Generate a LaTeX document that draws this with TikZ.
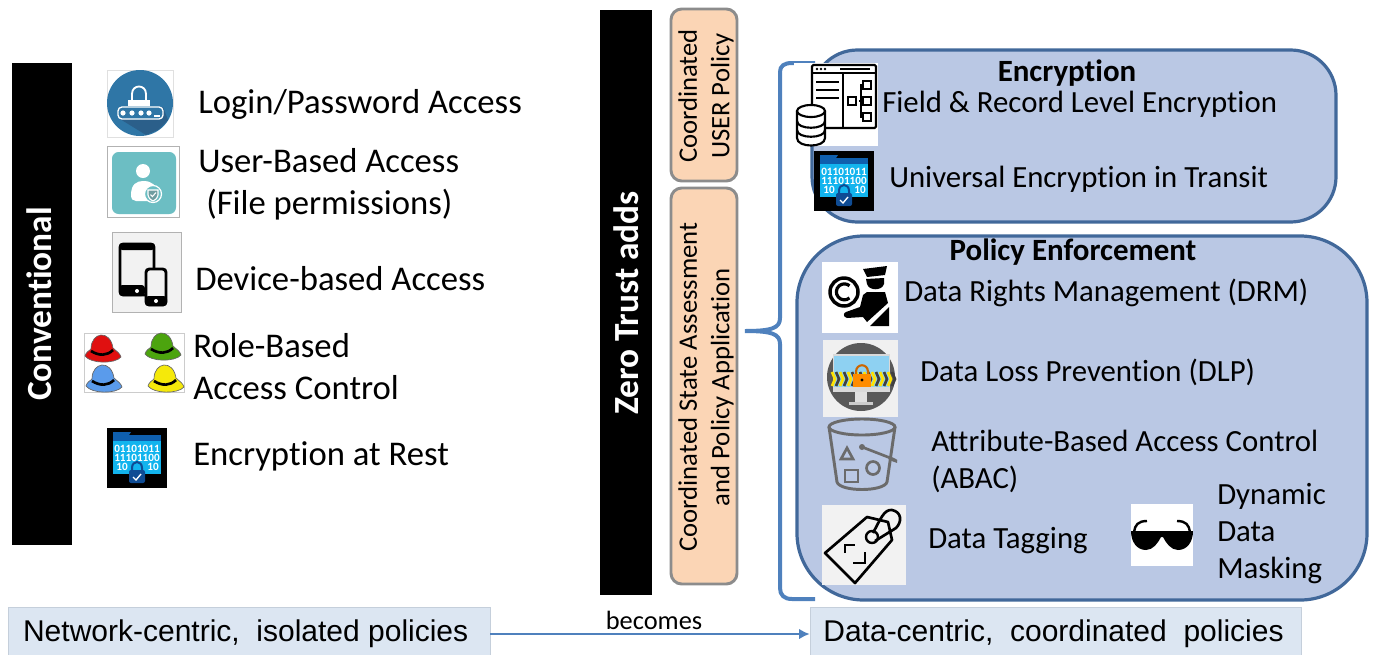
\documentclass[tikz,border=0pt]{standalone}
\usepackage{fontspec}
\usetikzlibrary{arrows.meta}
\setmainfont{Carlito}[Ligatures=CommonOff]
\newfontfamily\arialfont{Liberation Sans}
\definecolor{bracecol}{HTML}{4F81BD}
\definecolor{panelfill}{HTML}{BAC8E4}
\definecolor{paneledge}{HTML}{41689A}
\definecolor{peachfill}{HTML}{FBD5B5}
\definecolor{peachedge}{HTML}{8C8C8C}
\definecolor{barfill}{HTML}{DCE6F2}
\definecolor{baredge}{HTML}{C5CFDB}
\definecolor{folderlight}{HTML}{12B4EE}
\definecolor{folderdark}{HTML}{0F5FAE}
\definecolor{lockblue}{HTML}{0F4C94}
\definecolor{loginblue}{HTML}{2F76A6}
\definecolor{logindark}{HTML}{2B5F8A}
\definecolor{userteal}{HTML}{6CBEC3}
\definecolor{iconpale}{HTML}{F2F2F2}
\definecolor{screenblue}{HTML}{8ED1F2}
\definecolor{hatred}{HTML}{E01010}
\definecolor{hatgreen}{HTML}{4CA40E}
\definecolor{hatblue}{HTML}{5A9BEB}
\definecolor{hatyellow}{HTML}{F5E90A}
\tikzset{
    bartext/.style={white,font=\bfseries\fontsize{26.5}{30}\selectfont,rotate=90},
    peachbox/.style={draw=peachedge,line width=2.2pt,fill=peachfill,rounded corners=8pt},
    peachtext/.style={rotate=90,align=center,font=\fontsize{20}{24.5}\selectfont},
    panel/.style={draw=paneledge,line width=2.4pt,fill=panelfill},
    lefttext/.style={anchor=base west,inner sep=0pt,font=\fontsize{26}{30}\selectfont},
    righttext/.style={anchor=base west,inner sep=0pt,font=\fontsize{23.1}{27}\selectfont},
    headtext/.style={anchor=base,inner sep=0pt,font=\bfseries\fontsize{23.2}{27}\selectfont},
    footbox/.style={draw=baredge,fill=barfill,minimum height=40.5pt,inner sep=0pt,font=\arialfont\fontsize{22.5}{26}\selectfont},
    bitstext/.style={white,inner sep=0pt,font=\bfseries\fontsize{8.4}{9}\selectfont},
    pics/hat/.style={code={
        \fill[#1,draw=black!60,line width=.5pt] (-18,7) .. controls (-17,3) and (-14,2) .. (-12,0) .. controls (-12,-17) and (7,-20) .. (10,-1) .. controls (13,2) and (17,4) .. (18,8) .. controls (12,15) and (-12,15) .. (-18,7) -- cycle;
        \draw[black,line width=2pt] (-12,2) .. controls (-4,7) and (4,7) .. (10,1);
    }},
    pics/encfolder/.style={code={
        \fill[black] (0,0) rectangle (60,60);
        \fill[folderlight] (6,10) rectangle (54,46);
        \fill[folderdark] (6,7) -- (22,7) -- (24,4) -- (6,4) -- cycle;
        \fill[folderdark] (6,7) rectangle (54,13);
        \node[bitstext] (-bitsa) at (30,21) {01101011};
        \node[bitstext] (-bitsb) at (30,30) {11101100};
        \node[bitstext] (-bitsc) at (15,39) {10};
        \node[bitstext] (-bitsd) at (46,39) {10};
        \draw[lockblue,line width=1.5pt] (25,44) -- (25,40) .. controls (25,32) and (35,32) .. (35,40) -- (35,44);
        \fill[lockblue,rounded corners=1.5pt] (22,42) rectangle (38,55);
        \draw[white,line width=1pt] (26,49) -- (29,52) -- (34,46);
    }},
}
\begin{document}
\begin{tikzpicture}[x=0.75pt,y=-0.75pt]
    \useasboundingbox (0,0) rectangle (1374,654);

    % left column
    \fill[black] (12,63) rectangle (72,545);
    \node[bartext] (conv) at (39,304) {Conventional};

    % login icon
    \draw[black!12,fill=white] (107,70) rectangle (173,137);
    \fill[loginblue] (140,103) circle (33);
    \fill[logindark] (128,107) -- (163,107) -- (168,120) -- (158,130) -- (146,135) -- (120,119) -- cycle;
    \draw[white,line width=1.4pt] (132,100) -- (132,94) .. controls (132,84) and (146,84) .. (146,94) -- (146,100);
    \fill[white] (128,100) rectangle (150,106);
    \draw[white,line width=1pt,fill=loginblue,rounded corners=3pt] (118,107) rectangle (163,119);
    \foreach \x in {123,132,141,149}
        \fill[white] (\x,113) circle (2.6);
    \draw[white,line width=1pt] (154,116) -- (160,116);

    % user icon
    \draw[black!30,fill=white] (107,146) rectangle (179,217);
    \fill[userteal,rounded corners=5pt] (112,152) rectangle (176,214);
    \fill[white] (143,171) circle (7);
    \fill[white] (131,195) .. controls (131,184) and (137,181) .. (143,181) .. controls (151,181) and (157,184) .. (157,195) -- (155,201) -- (136,201) .. controls (133,201) and (131,199) .. (131,195) -- cycle;
    \draw[white,line width=.9pt,fill=userteal] (153,194) circle (8.5);
    \draw[white,line width=.8pt,fill=userteal!70!black!80] (148,190) -- (158,190) -- (158,195) .. controls (157,199) and (155,200) .. (153,201) .. controls (151,200) and (149,199) .. (148,195) -- cycle;
    \draw[white,line width=.8pt] (150.5,194.5) -- (152.5,196.5) -- (156,192.5);

    % device icon
    \draw[black!30,fill=iconpale] (112,232) rectangle (181,312);
    \draw[black,line width=2.2pt,fill=iconpale,rounded corners=2.5pt] (120,244) rectangle (154,295);
    \fill[black,rounded corners=2.5pt] (119,243) -- (155,243) -- (155,250) -- (119,250) -- cycle;
    \fill[black,rounded corners=2.5pt] (119,285) rectangle (145,296);
    \fill[white] (137,291) circle (2);
    \draw[black,line width=2.2pt,fill=iconpale,rounded corners=2.5pt] (146,269) rectangle (166,305);
    \fill[black,rounded corners=2.5pt] (145,296) rectangle (167,306);
    \fill[white] (156,301) circle (2);

    % hats icon
    \draw[black!20,fill=white] (84,333) rectangle (184,392);
    \foreach \hx/\hy/\hcol in {103/349/hatred,163/347/hatgreen,104/379/hatblue,166/379/hatyellow}
        \pic at (\hx,\hy) {hat={\hcol}};

    \pic (encrest) at (107,428) {encfolder};

    \node[lefttext] (login) at (198,113) {Login/Password Access};
    \node[lefttext] (userbased) at (198,172) {User-Based Access};
    \node[lefttext] (filepermit) at (206,214) {(File permissions)};
    \node[lefttext] (devicebased) at (195,290) {Device-based Access};
    \node[lefttext] (rolebased) at (193,357) {Role-Based};
    \node[lefttext] (accesscontrol) at (193,399) {Access Control};
    \node[lefttext] (encresttext) at (193,465) {Encryption at Rest};

    % middle column
    \fill[black] (600,10) rectangle (652,595);
    \node[bartext] (zerotrust) at (626,303) {Zero Trust adds};
    \draw[peachbox] (671,9) rectangle (737,181);
    \draw[peachbox] (671,188) rectangle (737,584);
    \node[peachtext] (userpolicy) at (706,96) {Coordinated\\USER Policy};
    \node[peachtext] (statepolicy) at (706,387) {Coordinated State Assessment\\and Policy Application};

    % panels
    \draw[panel,rounded corners=34pt] (812,50) rectangle (1336,222);
    \draw[panel,rounded corners=50pt] (797,236) rectangle (1367,600);

    % brace
    \coordinate (bracetop) at (815,63);
    \coordinate (bracetip) at (745,331);
    \coordinate (bracebot) at (815,599);
    \draw[bracecol,line width=3pt] (bracetop) -- (792,63) .. controls (784,63) and (780,66) .. (780,72) -- (780,318) .. controls (780,328) and (772,331) .. (bracetip) .. controls (772,331) and (780,334) .. (780,344) -- (780,588) .. controls (780,595) and (784,599) .. (792,599) -- (bracebot);

    % field and record icon
    \fill[white] (794,63) rectangle (878,146);
    \draw[black,line width=1.6pt,rounded corners=1pt] (812,65) rectangle (876,128);
    \draw[black,line width=1.6pt] (812,73) -- (876,73);
    \draw[black,line width=1.6pt] (843,73) -- (843,128);
    \draw[black,line width=1.8pt] (840,69) -- (870,69);
    \foreach \x in {817,821,825}
        \fill[black] (\x,69) circle (1.3);
    \foreach \y in {82,90,98}
        \draw[black,line width=1.6pt] (816,\y) -- (839,\y);
    \foreach \y in {85,101,117}
        {
            \draw[black,line width=1.4pt] (863,\y-4) rectangle (871,\y+4);
            \draw[black,line width=1.3pt] (859,101) -- (861,101) -- (861,\y) -- (863,\y);
        }
    \draw[black,line width=1.4pt] (848,97) rectangle (856,105);
    \draw[black,line width=1.6pt,fill=white] (797,112) -- (797,138) .. controls (797,148) and (825,148) .. (825,138) -- (825,112) -- cycle;
    \draw[black,line width=1.6pt,fill=white] (811,111) ellipse (14 and 6);
    \draw[black,line width=1.6pt] (797,121) .. controls (797,130) and (825,130) .. (825,121);
    \draw[black,line width=1.6pt] (797,130) .. controls (797,139) and (825,139) .. (825,130);

    \pic (enctransit) at (814,151) {encfolder};

    % drm icon
    \fill[white] (822,262) rectangle (898,333);
    \draw[black,line width=2.6pt] (844,292) circle (14);
    \draw[black,line width=2.4pt] (849.5,298) arc[start angle=50,end angle=310,radius=8];
    \fill[black] (863,269) -- (887,266) -- (885,275) -- (867,277) -- cycle;
    \fill[black] (866,279) -- (884,278) -- (884,284) .. controls (882,291) and (869,291) .. (867,284) -- cycle;
    \fill[black] (867,292) -- (885,292) -- (888,303) -- (867,322) -- (863,317) -- (847,318) .. controls (843,317) and (843,313) .. (846,312) -- (860,307) -- (863,295) -- cycle;
    \fill[black] (870,326) -- (889,307) -- (889,326) -- cycle;

    % dlp icon
    \fill[black!6] (823,340) rectangle (898,417);
    \fill[black!65] (861,377) circle (34);
    \fill[black!12] (855,392) rectangle (867,402);
    \fill[black!20] (849,402) rectangle (873,405);
    \fill[black!15] (833,354) rectangle (890,392);
    \fill[screenblue] (834,356) rectangle (889,387);
    \foreach \x in {832,840,...,888}
        {
            \draw[yellow!85!orange,line width=2pt] (\x,372) -- (\x+3,379) -- (\x,386);
            \draw[black!75,line width=2pt] (\x+4,372) -- (\x+7,379) -- (\x+4,386);
        }
    \draw[orange!80!black,line width=1.6pt] (856,375) -- (856,372) .. controls (856,363) and (868,363) .. (868,372) -- (868,375);
    \fill[orange!90!yellow] (853,374) rectangle (871,387);
    \fill[black] (862,380) circle (1.6);

    % abac bucket icon
    \begin{scope}[draw=black!58,line width=2.2pt]
        \draw (862,427) ellipse (33 and 8);
        \draw (829,427) -- (837,482) .. controls (840,492) and (884,492) .. (887,482) -- (895,427);
        \draw[line width=2pt] (847,448) -- (853,459) -- (841,459) -- cycle;
        \draw[line width=2pt] (845,470) rectangle (858,482);
        \draw[line width=2pt] (873,468) circle (6.5);
        \fill[black!58] (862,447) circle (3);
        \draw[line width=2pt] (862,447) -- (893,459) .. controls (899,462) and (896,462) .. (889,458);
    \end{scope}

    % tag icon
    \fill[iconpale] (822,505) rectangle (906,585);
    \draw[black,line width=2pt,line join=round] (825,553) -- (855,583) -- (892,540) -- (888,522) -- (867,517) -- cycle;
    \draw[black,line width=1.8pt] (872,537) circle (6);
    \draw[black,line width=2pt] (873,533) .. controls (880,520) and (884,509) .. (892,510) .. controls (902,512) and (902,522) .. (896,528) -- (875,541);
    \draw[black,line width=1.8pt] (845,553) -- (845,545) -- (855,545);
    \draw[black,line width=1.8pt] (853,563) -- (865,563) -- (865,552);

    % glasses icon
    \fill[white] (1131,504) rectangle (1193,566);
    \fill[black] (1131,531) -- (1193,531) .. controls (1193,542) and (1187,550) .. (1178,550) .. controls (1171,550) and (1166,543) .. (1163,537) -- (1161,537) .. controls (1158,543) and (1153,550) .. (1146,550) .. controls (1137,550) and (1131,542) .. (1131,531) -- cycle;
    \draw[black,line width=1.8pt] (1134,532) .. controls (1135,525) and (1138,521) .. (1147,521);
    \draw[black,line width=1.8pt] (1190,532) .. controls (1189,525) and (1186,521) .. (1177,521);

    % panel texts
    \node[headtext] (enchead) at (1067,81) {Encryption};
    \node[righttext] (fieldrecord) at (882,112) {Field \& Record Level Encryption};
    \node[righttext] (transit) at (889,187) {Universal Encryption in Transit};
    \node[headtext] (policyhead) at (1073,260) {Policy Enforcement};
    \node[righttext] (drm) at (904,301) {Data Rights Management (DRM)};
    \node[righttext] (dlp) at (920,381) {Data Loss Prevention (DLP)};
    \node[righttext] (abac) at (931,451) {Attribute-Based Access Control};
    \node[righttext] (abacshort) at (931,488) {(ABAC)};
    \node[righttext] (tagging) at (928,548) {Data Tagging};
    \node[righttext] (dynamic) at (1217,504) {Dynamic};
    \node[righttext] (maskdata) at (1217,541) {Data};
    \node[righttext] (masking) at (1217,578) {Masking};

    % bottom row
    \node[footbox,minimum width=361.5pt] (netbox) at (249,634) {\hspace*{-5pt}\raisebox{-2pt}{Network-centric,\ \ isolated policies}};
    \node[footbox,minimum width=368.25pt] (databox) at (1055.5,634) {\hspace*{-3pt}\raisebox{-2pt}{Data-centric,\ \ coordinated\ \ policies}};
    \draw[bracecol,line width=1.8pt,-{Latex[length=8pt,width=8pt]}] (netbox) -- (databox);
    \node[font=\fontsize{19.8}{22}\selectfont,inner sep=0pt] (becomes) at (654,620) {becomes};
\end{tikzpicture}
\end{document}
